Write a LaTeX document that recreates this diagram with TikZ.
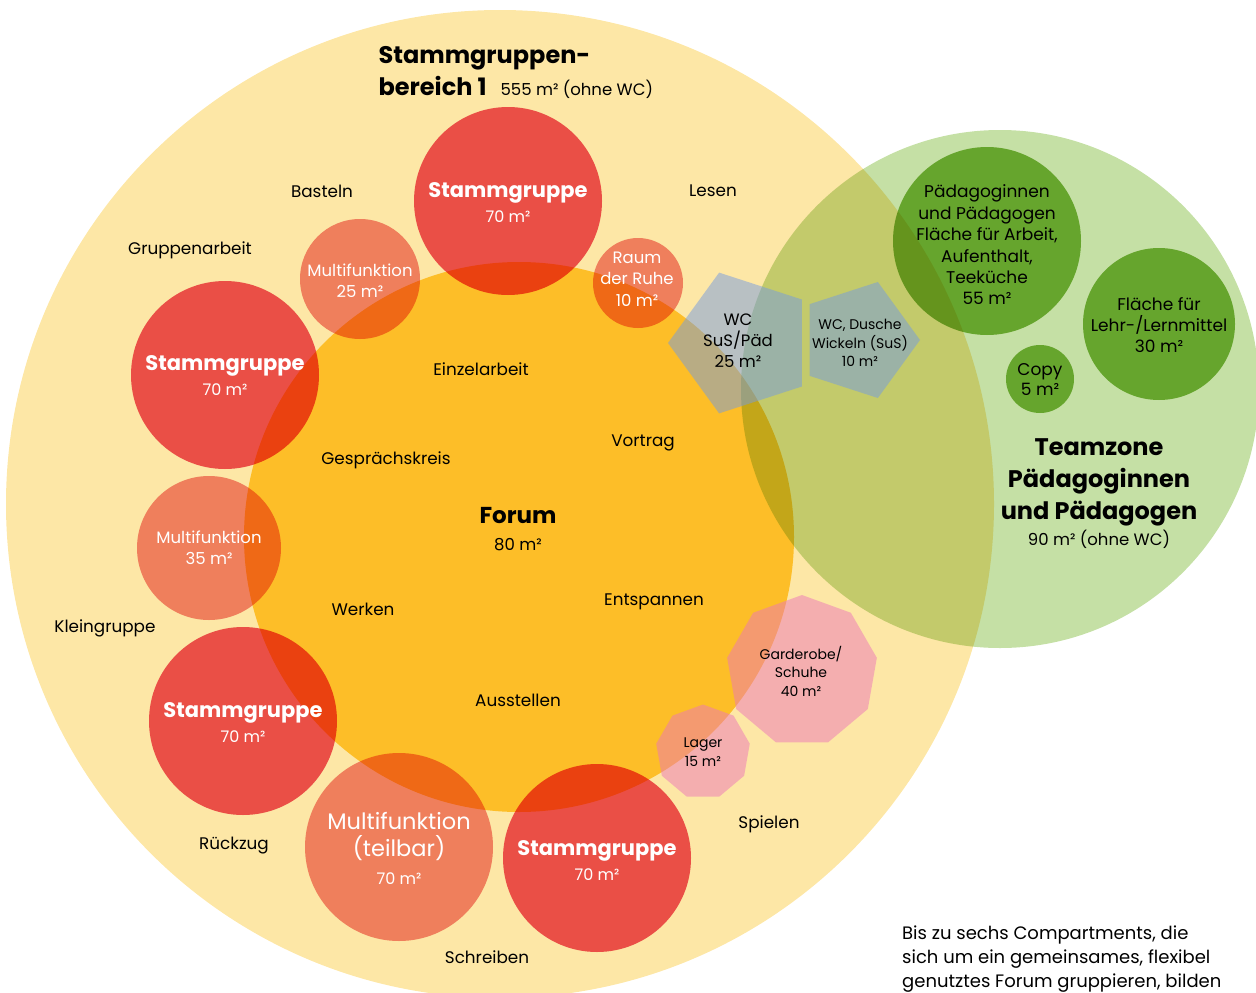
\documentclass[tikz,border=0pt]{standalone}
\usepackage{fontspec}
\setmainfont{Poppins}
\usetikzlibrary{shapes.geometric}
\definecolor{bereichgelb}{RGB}{253,231,166}
\definecolor{forumorange}{RGB}{253,190,40}
\definecolor{stammrot}{RGB}{236,88,108}
\definecolor{multilachs}{RGB}{241,141,142}
\definecolor{teamgruen}{RGB}{197,224,165}
\definecolor{raumgruen}{RGB}{133,188,70}
\definecolor{wcgrau}{RGB}{117,155,225}
\definecolor{lagerrosa}{RGB}{237,119,185}
\begin{document}
\begin{tikzpicture}[x=1pt,y=-1pt]
\tikzstyle{room} = [circle, inner sep=0pt, draw=none]
\tikzstyle{stamm} = [room, fill=stammrot, minimum size=188pt]
\tikzstyle{multi} = [room, fill=multilachs]
\tikzstyle{team} = [room, fill=raumgruen]
\tikzstyle{wc} = [regular polygon, regular polygon sides=5, inner sep=0pt, fill=wcgrau, fill opacity=0.5]
\tikzstyle{ablage} = [regular polygon, regular polygon sides=9, inner sep=0pt, fill=lagerrosa, fill opacity=0.5]
\tikzstyle{lbl} = [font=\fontsize{16.8}{20}\selectfont, inner sep=0pt]
\tikzstyle{wtxt} = [text=white, align=center, inner sep=0pt]
\tikzstyle{btxt} = [text=black, align=center, inner sep=0pt]
\tikzstyle{stammtxt} = [wtxt, font=\fontsize{16}{25}\selectfont]
\useasboundingbox (0,0) rectangle (1256,993);
\clip (0,0) rectangle (1256,993);
% Flaechen
\node[room, fill=bereichgelb, minimum size=988pt](bereich) at (500,504) {};
\node[room, fill=forumorange, minimum size=550pt](forum) at (519,537) {};
\begin{scope}[blend mode=multiply]
\node[stamm](stamm1) at (508,201) {};
\node[stamm](stamm2) at (225,375) {};
\node[stamm](stamm3) at (243,721) {};
\node[stamm](stamm4) at (597,858) {};
\node[multi, minimum size=120pt](multi1) at (360,279) {};
\node[multi, minimum size=144pt](multi2) at (209,548) {};
\node[multi, minimum size=188pt](multi3) at (399,847) {};
\node[multi, minimum size=90pt](ruhe) at (638,283) {};
\node[room, fill=teamgruen, minimum size=518pt](teamzone) at (1000,389) {};
\end{scope}
\node[wc, minimum size=148pt, shape border rotate=90](wc1) at (742,343) {};
\node[wc, minimum size=122pt, shape border rotate=-90](wc2) at (859,340) {};
\node[ablage, minimum size=152pt](garderobe) at (802,671) {};
\node[ablage, minimum size=95pt](lager) at (703,752) {};
\begin{scope}[blend mode=multiply]
\node[team, minimum size=188pt](paed) at (987,241) {};
\node[team, minimum size=152pt](lehr) at (1159,324) {};
\node[team, minimum size=68pt](copy) at (1040,379) {};
\end{scope}
% Beschriftungen
\node[anchor=base west, font=\fontsize{24}{30}\selectfont\bfseries](titel1) at (375,63) {Stammgruppen-};
\node[anchor=base west, font=\fontsize{24}{30}\selectfont\bfseries](titel2) at (375,95) {bereich 1};
\node[anchor=base west, font=\fontsize{16.5}{19}\selectfont](titel3) at (497,95) {555 m² (ohne WC)};
\node[stammtxt](stamm1txt) at (508,203) {\fontsize{21}{25}\selectfont\bfseries Stammgruppe\\\fontsize{16}{25}\selectfont 70 m²};
\node[stammtxt](stamm2txt) at (225,376) {\fontsize{21}{25}\selectfont\bfseries Stammgruppe\\\fontsize{16}{25}\selectfont 70 m²};
\node[stammtxt](stamm3txt) at (243,723) {\fontsize{21}{25}\selectfont\bfseries Stammgruppe\\\fontsize{16}{25}\selectfont 70 m²};
\node[stammtxt](stamm4txt) at (597,861) {\fontsize{21}{25}\selectfont\bfseries Stammgruppe\\\fontsize{16}{25}\selectfont 70 m²};
\node[wtxt, font=\fontsize{16.5}{21}\selectfont](multi1txt) at (360,281) {Multifunktion\\25 m²};
\node[wtxt, font=\fontsize{16.5}{21}\selectfont](multi2txt) at (209,548) {Multifunktion\\35 m²};
\node[wtxt, font=\fontsize{16}{27.5}\selectfont](multi3txt) at (399,848) {\fontsize{22.5}{27.5}\selectfont Multifunktion\\\fontsize{22.5}{27.5}\selectfont (teilbar)\\\fontsize{16}{27.5}\selectfont 70 m²};
\node[wtxt, font=\fontsize{16.5}{21.5}\selectfont](ruhetxt) at (637,279) {Raum\\der Ruhe\\10 m²};
\node[btxt, font=\fontsize{16.5}{21}\selectfont](wc1txt) at (738,341) {WC\\SuS/Päd\\25 m²};
\node[btxt, font=\fontsize{14}{18.5}\selectfont](wc2txt) at (860,343) {WC, Dusche\\Wickeln (SuS)\\10 m²};
\node[btxt, font=\fontsize{14}{18.5}\selectfont](gardtxt) at (801,671) {Garderobe/\\Schuhe\\40 m²};
\node[btxt, font=\fontsize{14}{19}\selectfont](lagertxt) at (703,752) {Lager\\15 m²};
\node[btxt, font=\fontsize{17}{21.4}\selectfont](paedtxt) at (987,245) {Pädagoginnen\\und Pädagogen\\Fläche für Arbeit,\\Aufenthalt,\\Teeküche\\55 m²};
\node[btxt, font=\fontsize{17}{21}\selectfont](lehrtxt) at (1159,325) {Fläche für\\Lehr-/Lernmittel\\30 m²};
\node[btxt, font=\fontsize{17}{20}\selectfont](copytxt) at (1040,380) {Copy\\5 m²};
\node[btxt, font=\fontsize{16.5}{32}\selectfont](teamtxt) at (1099,494) {\fontsize{24}{32}\selectfont\bfseries Teamzone\\\fontsize{24}{32}\selectfont\bfseries Pädagoginnen\\\fontsize{24}{32}\selectfont\bfseries und Pädagogen\\[-6pt]\fontsize{16.5}{32}\selectfont 90 m² (ohne WC)};
\node[btxt, font=\fontsize{16.5}{27}\selectfont](forumtxt) at (518,529) {\fontsize{23}{27}\selectfont\bfseries Forum\\\fontsize{16.5}{27}\selectfont 80 m²};
\node[lbl](basteln) at (322,191) {Basteln};
\node[lbl](lesen) at (713,191) {Lesen};
\node[lbl](gruppenarbeit) at (190,250) {Gruppenarbeit};
\node[lbl](einzelarbeit) at (481,369) {Einzelarbeit};
\node[lbl](gespraech) at (386,460) {Gesprächskreis};
\node[lbl](vortrag) at (643,443) {Vortrag};
\node[lbl](werken) at (363,609) {Werken};
\node[lbl](entspannen) at (654,602) {Entspannen};
\node[lbl](kleingruppe) at (105,628) {Kleingruppe};
\node[lbl](ausstellen) at (518,700) {Ausstellen};
\node[lbl](rueckzug) at (234,846) {Rückzug};
\node[lbl](spielen) at (769,824) {Spielen};
\node[lbl](schreiben) at (487,957) {Schreiben};
\node[anchor=north west, align=left, inner sep=0pt, font=\fontsize{18}{24}\selectfont](hinweis) at (902,926) {Bis zu sechs Compartments, die\\sich um ein gemeinsames, flexibel\\genutztes Forum gruppieren, bilden};
\end{tikzpicture}
\end{document}
